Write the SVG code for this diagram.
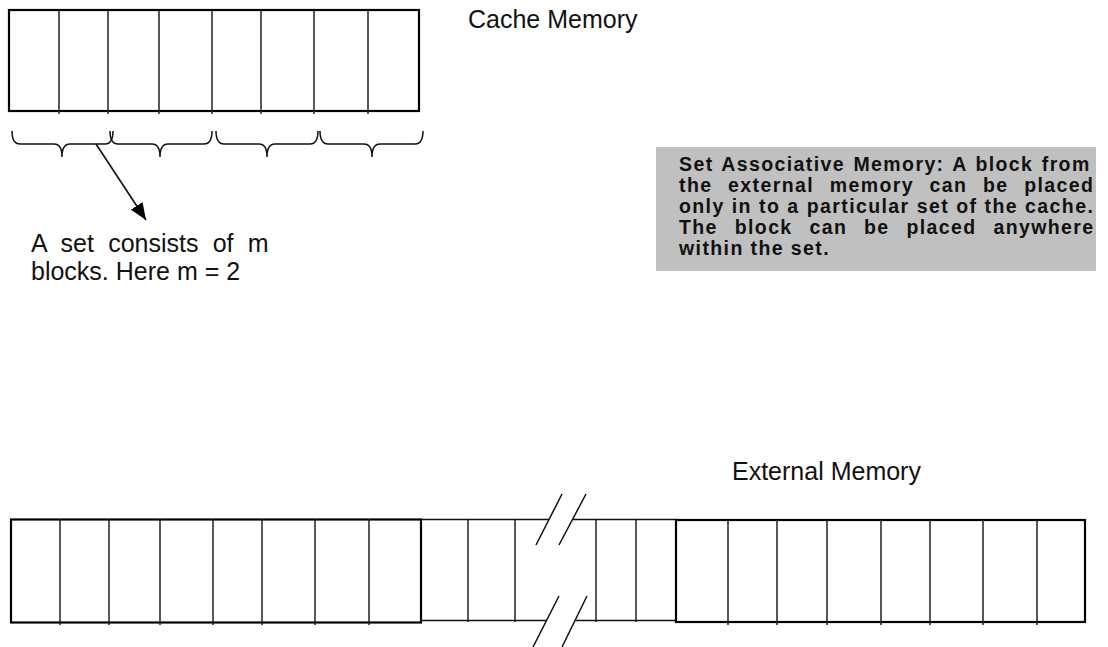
<svg xmlns="http://www.w3.org/2000/svg" width="1108" height="647" viewBox="0 0 1108 647">
<style>
.frame{fill:none;stroke:#000;stroke-width:2.2}
.div{stroke:#222;stroke-width:1.5}
.thin{fill:none;stroke:#111;stroke-width:1.5}
.lbl{font-family:"Liberation Sans",Arial,sans-serif;font-size:25px;fill:#111}
.note{font-family:"Liberation Sans",Arial,sans-serif;font-size:19.5px;font-weight:bold;fill:#111;letter-spacing:1.4px}
.brace{fill:none;stroke:#111;stroke-width:1.5}
</style>
<defs>
<marker id="ah" viewBox="0 0 17 14" refX="17" refY="7" markerWidth="17" markerHeight="14" markerUnits="userSpaceOnUse" orient="auto">
<path d="M0,0 L17,7 L0,14 z" fill="#000"/>
</marker>
</defs>
<rect width="1108" height="647" fill="#fff"/>

<g id="cache">
<rect class="frame" x="9" y="10" width="410" height="101"/>
<path class="div" d="M59,10V114M108,10V114M159,10V114M212,10V114M261,10V114M314,10V114M368,10V114"/>
</g>
<g id="cache-label"><text class="lbl" x="468" y="28">Cache Memory</text></g>

<g id="braces">
<path class="brace" d="M12,131 Q12,144 20,144 L54,144 Q62,144 62,157 Q62,144 70,144 L105,144 Q113,144 113,131"/>
<path class="brace" d="M110,131 Q110,144 118,144 L152,144 Q160,144 160,157 Q160,144 168,144 L204,144 Q212,144 212,131"/>
<path class="brace" d="M216,131 Q216,144 224,144 L259,144 Q267,144 267,157 Q267,144 275,144 L310,144 Q318,144 318,131"/>
<path class="brace" d="M320,131 Q320,144 328,144 L364,144 Q372,144 372,157 Q372,144 380,144 L415,144 Q423,144 423,131"/>
</g>

<g id="connectors">
<line x1="96" y1="144" x2="146" y2="220" stroke="#111" stroke-width="1.6" marker-end="url(#ah)"/>
</g>

<g id="set-note">
<text class="lbl" x="31" y="252" word-spacing="7.3">A set consists of m</text>
<text class="lbl" x="31" y="280">blocks. Here m = 2</text>
</g>

<g id="info-box">
<rect x="656" y="147" width="440" height="124" fill="#c0c0c0"/>
<text class="note" x="679" y="170.5" word-spacing="1.6">Set Associative Memory: A block from</text>
<text class="note" x="679" y="191.5" word-spacing="8.8">the external memory can be placed</text>
<text class="note" x="679" y="212.5" word-spacing="0.3">only in to a particular set of the cache.</text>
<text class="note" x="679" y="233.5" word-spacing="10">The block can be placed anywhere</text>
<text class="note" x="679" y="254.5">within the set.</text>
</g>

<g id="external-label"><text class="lbl" x="732" y="480">External Memory</text></g>

<g id="external-left">
<rect class="frame" x="11" y="519.5" width="410" height="103"/>
<path class="div" d="M60,519V625M109,519V625M160,519V625M213,519V625M262,519V625M315,519V625M369,519V625"/>
</g>

<g id="external-middle">
<path class="thin" d="M421,519.5H549M572.5,519.5H676M421,620.5H547M575.5,620.5H676"/>
<path class="div" d="M468,519.5V622M515,519.5V622M596,519.5V622M636,519.5V622"/>
<path class="thin" d="M536,545L562,494M559,545L586,494M533,647L559,596M562,647L587,596"/>
</g>

<g id="external-right">
<rect class="frame" x="676" y="520" width="409" height="102"/>
<path class="div" d="M728,520V625M777,520V625M827,520V625M881,520V625M930,520V625M983,520V625M1037,520V625"/>
</g>
</svg>
